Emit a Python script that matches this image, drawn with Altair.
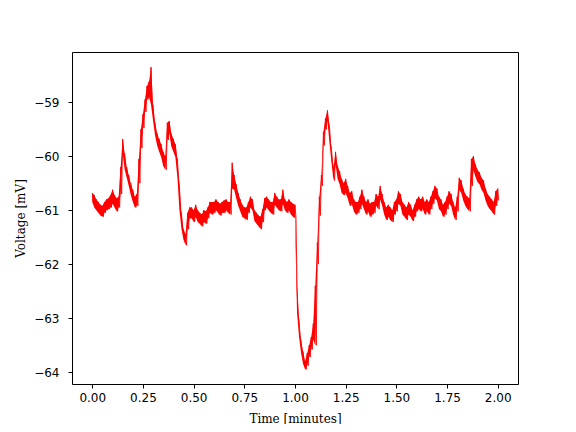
import altair as alt
import pandas as pd
import numpy as np

# sampling grid (minutes), 0.01 step
time_min = np.round(np.arange(0, 2.001, 0.01), 3)

# upper and lower edge of the noisy trace (mV)
upper = [
-60.68,-60.72,-60.80,-60.85,-60.90,-60.92,-60.85,-60.80,-60.78,-60.72,
-60.62,-60.72,-60.78,-60.75,-60.20,-59.68,-59.95,-60.20,-60.35,-60.50,
-60.62,-60.75,-60.70,-60.05,-59.50,-59.22,-58.95,-58.70,-58.62,-58.35,
-59.05,-59.38,-59.58,-59.68,-59.78,-59.92,-60.00,-59.38,-59.35,-59.58,
-59.68,-59.78,-60.05,-60.55,-61.05,-61.35,-61.45,-61.05,-60.95,-60.95,
-61.00,-60.90,-61.00,-61.05,-61.08,-61.00,-61.02,-60.95,-60.85,-60.85,
-60.85,-60.80,-60.85,-60.88,-60.85,-60.82,-60.80,-60.85,-60.85,-60.12,
-60.35,-60.52,-60.68,-60.80,-60.90,-60.95,-60.95,-60.85,-60.75,-60.80,
-61.00,-61.05,-61.10,-61.12,-60.98,-60.78,-60.75,-60.80,-60.85,-60.85,
-60.68,-60.75,-60.80,-60.80,-60.62,-60.80,-60.85,-60.80,-60.85,-60.88,
-60.90,-62.40,-63.05,-63.42,-63.62,-63.80,-63.65,-63.50,-63.35,-63.10,
-62.40,-61.60,-60.75,-60.35,-59.55,-59.30,-59.15,-59.45,-59.88,-60.22,
-59.92,-60.18,-60.28,-60.42,-60.50,-60.42,-60.55,-60.68,-60.65,-60.80,
-60.85,-60.85,-60.75,-60.62,-60.75,-60.85,-60.80,-60.88,-60.85,-60.85,
-60.70,-60.75,-60.55,-60.70,-60.85,-60.95,-60.90,-60.95,-61.00,-60.85,
-60.80,-60.65,-60.70,-60.85,-60.90,-60.95,-60.85,-60.90,-61.00,-60.90,
-60.80,-60.75,-60.80,-60.75,-60.85,-60.80,-60.85,-60.75,-60.65,-60.55,
-60.60,-60.75,-60.80,-60.90,-60.85,-60.75,-60.65,-60.70,-60.85,-60.95,
-60.75,-60.40,-60.45,-60.60,-60.70,-60.75,-60.78,-60.05,-60.00,-60.15,
-60.25,-60.30,-60.40,-60.45,-60.60,-60.70,-60.75,-60.80,-60.85,-60.65,
-60.60,
]
lower = [
-60.85,-60.95,-61.00,-61.05,-61.10,-61.12,-61.05,-61.00,-60.98,-60.95,
-60.88,-60.95,-61.02,-60.95,-60.70,-59.95,-60.25,-60.40,-60.55,-60.72,
-60.85,-60.95,-60.92,-60.50,-59.85,-59.48,-59.18,-58.95,-58.90,-59.05,
-59.35,-59.62,-59.80,-59.92,-60.02,-60.18,-60.25,-59.70,-59.58,-59.82,
-59.92,-60.02,-60.40,-61.00,-61.35,-61.55,-61.65,-61.35,-61.15,-61.15,
-61.22,-61.12,-61.22,-61.25,-61.30,-61.22,-61.25,-61.15,-61.05,-61.08,
-61.05,-61.00,-61.05,-61.10,-61.05,-61.05,-61.00,-61.05,-61.08,-60.60,
-60.62,-60.78,-60.92,-61.02,-61.12,-61.15,-61.18,-61.05,-60.95,-61.00,
-61.20,-61.25,-61.30,-61.35,-61.22,-61.00,-60.95,-61.00,-61.05,-61.08,
-60.90,-60.95,-61.00,-61.02,-60.88,-61.00,-61.05,-61.00,-61.08,-61.12,
-61.15,-62.90,-63.35,-63.65,-63.85,-63.95,-63.88,-63.72,-63.58,-63.40,
-63.50,-62.00,-61.10,-60.55,-59.80,-59.50,-59.35,-59.75,-60.12,-60.45,
-60.15,-60.42,-60.52,-60.68,-60.72,-60.68,-60.78,-60.92,-60.88,-61.02,
-61.08,-61.05,-60.98,-60.88,-60.98,-61.08,-61.02,-61.12,-61.08,-61.05,
-60.92,-60.98,-60.80,-60.92,-61.08,-61.18,-61.12,-61.18,-61.22,-61.08,
-61.02,-60.88,-60.92,-61.08,-61.12,-61.18,-61.08,-61.12,-61.20,-61.12,
-61.02,-60.98,-61.02,-60.98,-61.08,-61.02,-61.08,-60.98,-60.88,-60.78,
-60.82,-60.98,-61.02,-61.12,-61.08,-60.98,-60.88,-60.92,-61.08,-61.18,
-61.02,-60.62,-60.68,-60.82,-60.92,-60.98,-61.02,-60.55,-60.25,-60.38,
-60.48,-60.52,-60.62,-60.68,-60.82,-60.92,-60.98,-61.02,-61.08,-60.92,
-60.82,
]

x_ticks = [0.0, 0.25, 0.5, 0.75, 1.0, 1.25, 1.5, 1.75, 2.0]
y_ticks = [-64, -63, -62, -61, -60, -59]

band_df = pd.DataFrame({"t": time_min, "hi": upper, "lo": lower})

# interleave upper/lower edges to draw the noisy edge as one line
rows = []
for t, u, l in zip(time_min, upper, lower):
    rows.append({"t": float(t), "v": u})
    rows.append({"t": float(t) + 0.005, "v": l})
line_df = pd.DataFrame(rows)

xscale = alt.Scale(domain=[-0.1, 2.1], nice=False, zero=False)
yscale = alt.Scale(domain=[-64.22, -58.07], nice=False, zero=False)

common = dict(grid=False, labelFontSize=12, titleFontSize=12,
              labelFont="DejaVu Sans", titleFont="DejaVu Serif",
              titleFontWeight="normal", labelColor="black", titleColor="black",
              tickColor="black", domainColor="black", labelFlush=False,
              tickWidth=1, domainWidth=1)

xaxis = alt.Axis(values=x_ticks, format=".2f", title="Time [minutes]",
                 tickSize=4, labelPadding=4, titlePadding=10, **common)
yaxis = alt.Axis(values=y_ticks, format="d", title="Voltage [mV]",
                 tickSize=4, labelPadding=9, titlePadding=6, **common)

band = alt.Chart(band_df).mark_area(color="#ff0000", opacity=1).encode(
    x=alt.X("t:Q", scale=xscale, axis=xaxis),
    y=alt.Y("hi:Q", scale=yscale, axis=yaxis),
    y2="lo:Q",
)

line = alt.Chart(line_df).mark_line(color="#ff0000", strokeWidth=0.9).encode(
    x=alt.X("t:Q", scale=xscale, axis=None),
    y=alt.Y("v:Q", scale=yscale, axis=None),
    order="t:Q",
)

frame = alt.Chart(band_df.head(1)).mark_point(opacity=0).encode(
    x=alt.X("t:Q", scale=xscale,
            axis=alt.Axis(orient="top", labels=False, ticks=False, title=None,
                          grid=False, domainColor="black", domainWidth=1)),
    y=alt.Y("hi:Q", scale=yscale,
            axis=alt.Axis(orient="right", labels=False, ticks=False, title=None,
                          grid=False, domainColor="black", domainWidth=1)),
)

chart = alt.layer(band, line, frame).resolve_axis(
    x="independent", y="independent"
).properties(
    width=446, height=332,
    autosize=alt.AutoSizeParams(type="none"),
    padding={"left": 64, "top": 44, "right": 50, "bottom": 40},
).configure_view(stroke=None).configure(background="white")

chart.save("out.html", embed_options={"renderer": "svg", "actions": False})
